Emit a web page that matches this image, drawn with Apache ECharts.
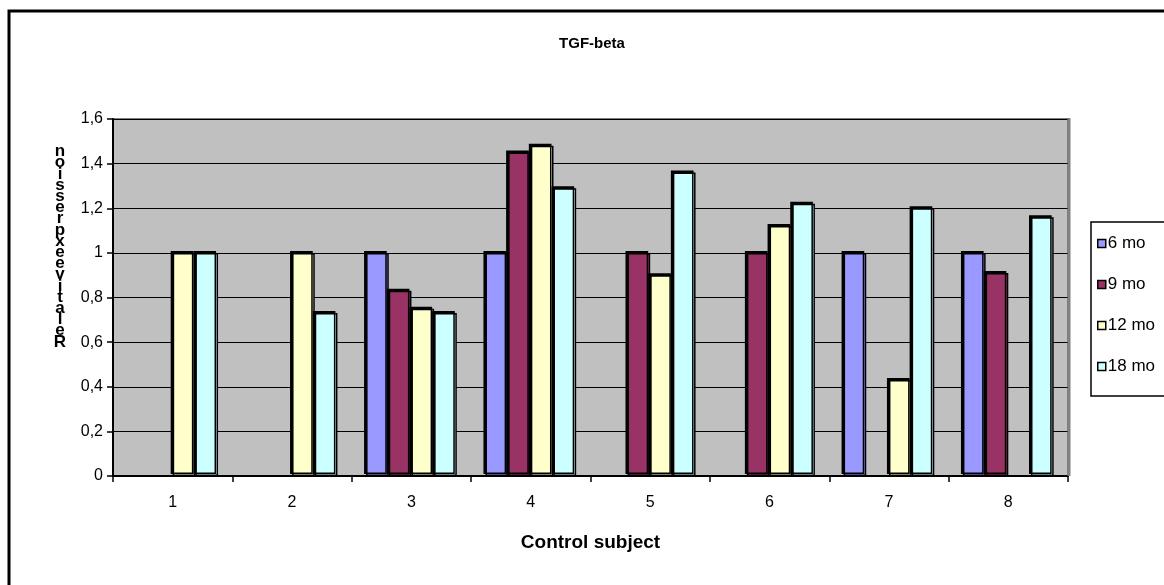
<!DOCTYPE html>
<html>
<head>
<meta charset="utf-8">
<title>TGF-beta</title>
<script src="https://cdn.jsdelivr.net/npm/echarts@6/dist/echarts.min.js"></script>
<style>
  html, body { margin: 0; padding: 0; background: #fff; }
  #chart { width: 1164px; height: 585px; }
</style>
</head>
<body>
<div id="chart"></div>
<script>
// Relative expression of TGF-beta per control subject, at four follow-up times
const categories = ['1', '2', '3', '4', '5', '6', '7', '8'];
const seriesNames = ['6 mo', '9 mo', '12 mo', '18 mo'];
const mo6  = [null, null, 1,    1,    null, null, 1,    1];
const mo9  = [null, null, 0.83, 1.45, 1,    1,    null, 0.91];
const mo12 = [1,    1,    0.75, 1.48, 0.9,  1.12, 0.43, null];
const mo18 = [1,    0.73, 0.73, 1.29, 1.36, 1.22, 1.2,  1.16];
const yTicks = [0, 0.2, 0.4, 0.6, 0.8, 1, 1.2, 1.4, 1.6];
const yAxisTitle = 'Relative expression';
const xAxisTitle = 'Control subject';
const chartTitle = 'TGF-beta';

const colors = ['#9999FF', '#993366', '#FFFFCC', '#CCFFFF'];
const values = [mo6, mo9, mo12, mo18];
const FONT = '"Liberation Sans", Arial, sans-serif';

// y-axis title drawn as upright letters stacked bottom-to-top
const stackedTitle = yAxisTitle.replace(/\s+/g, '').split('').reverse().join('\n');

const chart = echarts.init(document.getElementById('chart'), null, { renderer: 'canvas' });

const series = seriesNames.map((name, i) => ({
  name,
  type: 'bar',
  data: values[i],
  barGap: '0%',
  barCategoryGap: '24%',
  itemStyle: {
    color: colors[i],
    borderColor: '#000',
    borderWidth: 1.5,
    shadowColor: '#000',
    shadowBlur: 0,
    shadowOffsetX: -2,
    shadowOffsetY: -2
  },
  emphasis: { disabled: true }
}));

chart.setOption({
  animation: false,
  textStyle: { fontFamily: FONT, color: '#000' },
  title: {
    text: chartTitle,
    left: 587,
    top: 31,
    textAlign: 'center',
    textStyle: { fontFamily: FONT, fontSize: 15, fontWeight: 'bold', color: '#000' }
  },
  grid: {
    left: 113,
    right: 96,
    top: 119,
    bottom: 109,
    show: true,
    backgroundColor: '#C0C0C0',
    borderColor: '#808080',
    borderWidth: 2
  },
  legend: {
    data: seriesNames,
    orient: 'vertical',
    left: 1092,
    top: 230,
    icon: 'rect',
    itemWidth: 8,
    itemHeight: 8,
    itemGap: 24,
    selectedMode: false,
    textStyle: { fontFamily: FONT, fontSize: 17, color: '#000', padding: [0, 0, 0, -3] },
    itemStyle: {
      borderColor: '#000',
      borderWidth: 1.5,
      shadowBlur: 0,
      shadowOffsetX: 0,
      shadowOffsetY: 0,
      shadowColor: 'transparent'
    }
  },
  xAxis: {
    type: 'category',
    data: categories,
    name: xAxisTitle,
    nameLocation: 'middle',
    nameGap: 57,
    nameTextStyle: { fontFamily: FONT, fontSize: 19, fontWeight: 'bold', color: '#000' },
    axisLine: { show: true, lineStyle: { color: '#000', width: 2 } },
    axisTick: { show: true, length: 6, lineStyle: { color: '#000', width: 1.5 } },
    axisLabel: { fontFamily: FONT, fontSize: 16, color: '#000', margin: 19 },
    splitLine: { show: false }
  },
  yAxis: {
    type: 'value',
    min: yTicks[0],
    max: yTicks[yTicks.length - 1],
    interval: 0.2,
    axisLine: { show: true, lineStyle: { color: '#000', width: 2 } },
    axisTick: { show: true, length: 6, lineStyle: { color: '#000', width: 1.5 } },
    axisLabel: {
      fontFamily: FONT,
      fontSize: 16,
      color: '#000',
      margin: 10,
      formatter: v => String(+v.toFixed(1)).replace('.', ',')
    },
    splitLine: { show: true, lineStyle: { color: '#000', width: 1.2 } }
  },
  graphic: [
    // outer chart frame
    {
      type: 'rect',
      silent: true,
      shape: { x: 9, y: 11, width: 1200, height: 620 },
      style: { fill: 'none', stroke: '#000', lineWidth: 3 },
      z: 100
    },
    // heavier right edge of the plot area
    {
      type: 'line',
      silent: true,
      shape: { x1: 1069, y1: 118, x2: 1069, y2: 476 },
      style: { stroke: '#808080', lineWidth: 3 },
      z: 1
    },
    // legend frame
    {
      type: 'rect',
      silent: true,
      shape: { x: 1091, y: 222, width: 120, height: 174 },
      style: { fill: 'none', stroke: '#000', lineWidth: 1.5 },
      z: 100
    },
    // y-axis title
    {
      type: 'text',
      silent: true,
      x: 60,
      y: 146,
      style: {
        text: stackedTitle,
        fontFamily: FONT,
        fontSize: 17,
        fontWeight: 'bold',
        lineHeight: 11.2,
        fill: '#000',
        align: 'center',
        verticalAlign: 'top'
      },
      z: 100
    }
  ],
  series
});
</script>
</body>
</html>
